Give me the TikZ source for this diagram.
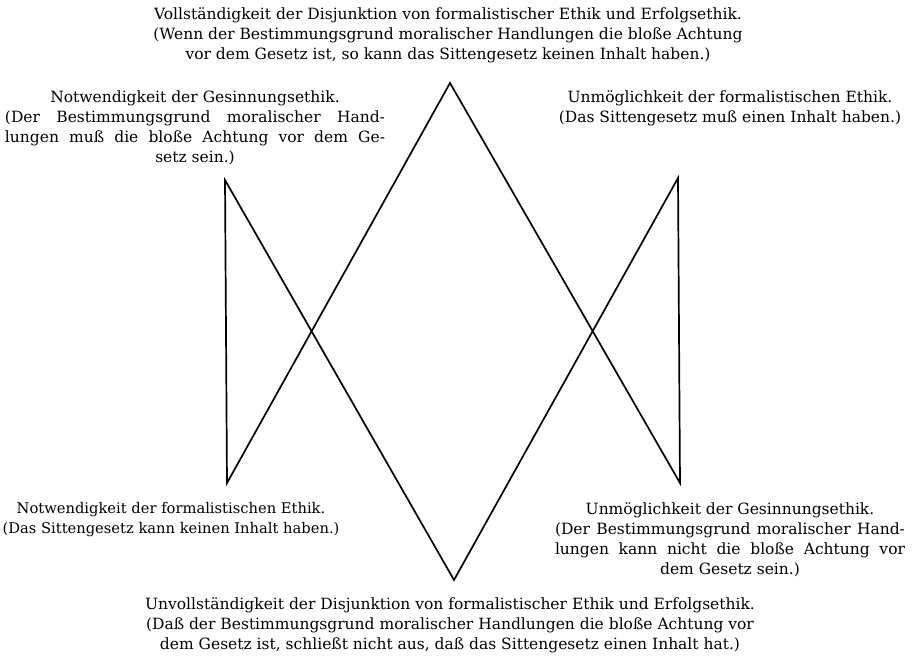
\documentclass[tikz,border=0pt]{standalone}
\usepackage{fontspec}
\setmainfont{DejaVu Serif}
\newcommand{\jl}[2]{\makebox[#1][s]{#2}}
\begin{document}
\begin{tikzpicture}[x=1pt,y=-1pt,
  lbl/.style={align=center,inner sep=0pt,font=\fontsize{15.5}{20}\selectfont},
  small/.style={font=\fontsize{14.7}{20}\selectfont},
  edge/.style={line width=1.7pt,line join=miter}]
\useasboundingbox (0,0) rectangle (922,656);
% vertices
\coordinate (T) at (450,83);
\coordinate (B) at (454,580);
\coordinate (LT) at (225,180);
\coordinate (LB) at (227,483);
\coordinate (RT) at (678,178);
\coordinate (RB) at (680,483);
\draw[edge] (T) -- (LB) -- (LT) -- (B) -- (RT) -- (RB) -- cycle;
% labels
\node[lbl] (top) at (448,35) {Vollständigkeit der Disjunktion von formalistischer Ethik und Erfolgsethik.\\
(Wenn der Bestimmungsgrund moralischer Handlungen die bloße Achtung\\
vor dem Gesetz ist, so kann das Sittengesetz keinen Inhalt haben.)};
\node[lbl] (tl) at (195,128) {Notwendigkeit der Gesinnungsethik.\\
\jl{380pt}{(Der Bestimmungsgrund moralischer Hand-}\\
\jl{380pt}{lungen muß die bloße Achtung vor dem Ge-}\\
setz sein.)};
\node[lbl] (tr) at (730,108) {Unmöglichkeit der formalistischen Ethik.\\
(Das Sittengesetz muß einen Inhalt haben.)};
\node[lbl,small] (bl) at (171,520) {Notwendigkeit der formalistischen Ethik.\\
(Das Sittengesetz kann keinen Inhalt haben.)};
\node[lbl] (br) at (730,540) {Unmöglichkeit der Gesinnungsethik.\\
\jl{350pt}{(Der Bestimmungsgrund moralischer Hand-}\\
\jl{350pt}{lungen kann nicht die bloße Achtung vor}\\
dem Gesetz sein.)};
\node[lbl] (bot) at (450,625) {Unvollständigkeit der Disjunktion von formalistischer Ethik und Erfolgsethik.\\
(Daß der Bestimmungsgrund moralischer Handlungen die bloße Achtung vor\\
dem Gesetz ist, schließt nicht aus, daß das Sittengesetz einen Inhalt hat.)};
\end{tikzpicture}
\end{document}
